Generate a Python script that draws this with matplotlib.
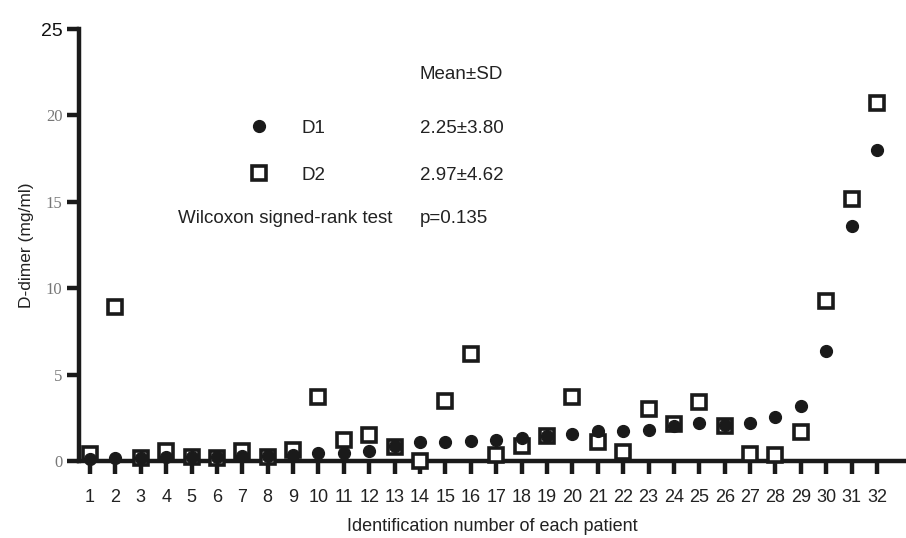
import matplotlib
matplotlib.use("Agg")
import matplotlib.pyplot as plt
import numpy as np

plt.rcParams['font.family'] = ['Liberation Sans', 'DejaVu Sans']

patients = list(range(1, 33))
d1 = [0.10, 0.19, 0.20, 0.25, 0.25, 0.25, 0.30, 0.30, 0.35, 0.46,
      0.48, 0.58, 0.85, 1.12, 1.12, 1.18, 1.23, 1.31, 1.45, 1.58,
      1.74, 1.76, 1.82, 2.05, 2.18, 2.10, 2.22, 2.54, 3.17, 6.34,
      13.60, 18.00]
d2 = [0.42, 8.93, 0.20, 0.58, 0.25, 0.20, 0.60, 0.25, 0.64, 3.68,
      1.22, 1.50, 0.79, 0.02, 3.47, 6.17, 0.35, 0.85, 1.45, 3.72,
      1.12, 0.54, 2.99, 2.15, 3.43, 2.04, 0.42, 0.36, 1.65, 9.26,
      15.17, 20.72]
yticks = [0, 5, 10, 15, 20, 25]
stats = ["2.25\u00b13.80", "2.97\u00b14.62"]
p_text = "p=0.135"

fig = plt.figure(figsize=(9.06, 5.38), dpi=100)
ax = fig.add_axes([79 / 906, 1 - 461 / 538, 1 - 79 / 906, (461 - 29) / 538])

h1, = ax.plot(patients, d1, 'o', color='#1a1a1a', markersize=8.5, linestyle='none',
              clip_on=False, zorder=5, label='D1')
h2, = ax.plot(patients, d2, 's', markerfacecolor='white', markeredgecolor='#1a1a1a',
              markeredgewidth=2.6, markersize=10, linestyle='none',
              clip_on=False, zorder=4, label='D2')

ax.set_xlim(1 - 11 / 25.4, 32 + 29 / 25.4)
ax.set_ylim(0, 25)
for s in ['top', 'right']:
    ax.spines[s].set_visible(False)
for s in ['left', 'bottom']:
    ax.spines[s].set_linewidth(3.2)
    ax.spines[s].set_color('#1a1a1a')

ax.set_xticks(patients)
ax.set_xticklabels([str(p) for p in patients], fontsize=13, color='#222222')
ax.tick_params(axis='x', direction='out', length=9, width=3.2, color='#1a1a1a', pad=11)
ax.set_yticks(yticks)
ax.set_yticklabels([str(v) for v in yticks])
ax.tick_params(axis='y', direction='out', length=9, width=3.2, color='#1a1a1a', pad=3)
for lab in ax.get_yticklabels():
    if lab.get_text() == '25':
        lab.set_fontfamily(['Liberation Sans'])
        lab.set_fontsize(14)
        lab.set_color('#111111')
    else:
        lab.set_fontfamily(['Liberation Serif', 'DejaVu Serif'])
        lab.set_fontsize(12)
        lab.set_color('#777777')

ax.set_xlabel("Identification number of each patient", fontsize=13, labelpad=9, color='#222222')
ax.set_ylabel("D-dimer (mg/ml)", fontsize=12.5, labelpad=5, color='#222222')

leg = ax.legend(handles=[h1, h2], loc='center left', bbox_to_anchor=(0.2068, 0.716),
                frameon=False, fontsize=13.5, handlelength=1.0, handletextpad=1.75,
                labelspacing=1.6, borderpad=0, borderaxespad=0, numpoints=1)
for t in leg.get_texts():
    t.set_color('#222222')

ax.text(13.99, 22.34, "Mean\u00b1SD", fontsize=13.5, va='center', color='#222222')
ax.text(13.99, 19.27, stats[0], fontsize=13.5, va='center', color='#222222')
ax.text(13.99, 16.55, stats[1], fontsize=13.5, va='center', color='#222222')
ax.text(4.46, 14.06, "Wilcoxon signed-rank test", fontsize=13.5, va='center', color='#222222')
ax.text(13.99, 14.06, p_text, fontsize=13.5, va='center', color='#222222')

fig.savefig("out.png", dpi=100)
